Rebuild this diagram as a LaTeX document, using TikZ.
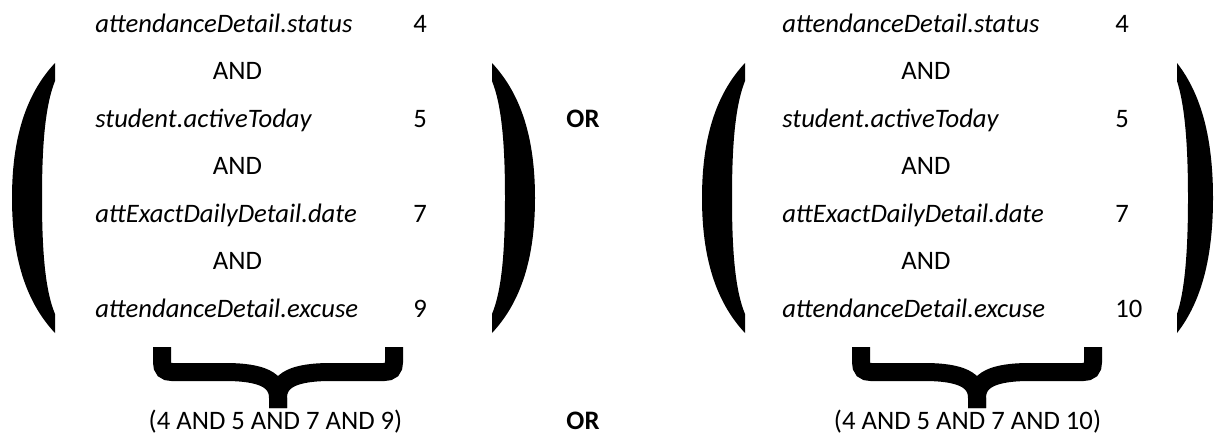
\documentclass[tikz,border=0pt]{standalone}
\usepackage{fontspec}
\setmainfont{Carlito}[Scale=2.0]

\begin{document}
\begin{tikzpicture}[
  x=0.75pt, y=-0.75pt,
  field/.style={anchor=base west,inner sep=0pt,font=\itshape},
  num/.style={anchor=base west,inner sep=0pt},
  andop/.style={anchor=base,inner sep=0pt},
  orop/.style={anchor=base,inner sep=0pt,font=\bfseries},
  total/.style={anchor=base,inner sep=0pt},
  brace/.style={line width=13.5pt}
]
  \useasboundingbox (0,0) rectangle (1214,436);

  % left group
  \node[field] (lstatus) at (95,32) {attendanceDetail.status};
  \node[num] (lnstatus) at (413,32) {4};
  \node[andop] (land1) at (237.5,79.5) {AND};
  \node[field] (lactive) at (95,127) {student.activeToday};
  \node[num] (lnactive) at (413,127) {5};
  \node[andop] (land2) at (237.5,174.5) {AND};
  \node[field] (ldate) at (95,222) {attExactDailyDetail.date};
  \node[num] (lndate) at (413,222) {7};
  \node[andop] (land3) at (237.5,269.5) {AND};
  \node[field] (lexcuse) at (95,317) {attendanceDetail.excuse};
  \node[num] (lnexcuse) at (413,317) {9};
  \node[total] (ltotal) at (275.5,429) {(4 AND 5 AND 7 AND 9)};

  % right group
  \node[field] (rstatus) at (782,32) {attendanceDetail.status};
  \node[num] (rnstatus) at (1115,32) {4};
  \node[andop] (rand1) at (926,79.5) {AND};
  \node[field] (ractive) at (782,127) {student.activeToday};
  \node[num] (rnactive) at (1115,127) {5};
  \node[andop] (rand2) at (926,174.5) {AND};
  \node[field] (rdate) at (782,222) {attExactDailyDetail.date};
  \node[num] (rndate) at (1115,222) {7};
  \node[andop] (rand3) at (926,269.5) {AND};
  \node[field] (rexcuse) at (782,317) {attendanceDetail.excuse};
  \node[num] (rnexcuse) at (1115,317) {10};
  \node[total] (rtotal) at (967.5,429) {(4 AND 5 AND 7 AND 10)};

  % the two ORs
  \node[orop] (or1) at (583,127) {OR};
  \node[orop] (or2) at (583,429) {OR};

  % parentheses
  \fill (55,63) .. controls (25,95) and (12,140) .. (12,198) .. controls (12,256) and (25,301) .. (55,333)
    -- (55,314) .. controls (45,290) and (42,250) .. (42,198) .. controls (42,146) and (45,106) .. (55,81) -- cycle;
  \fill (492,63) .. controls (522,95) and (535,140) .. (535,198) .. controls (535,256) and (522,301) .. (492,333)
    -- (492,314) .. controls (502,290) and (505,250) .. (505,198) .. controls (505,146) and (502,106) .. (492,81) -- cycle;
  \fill (745,63) .. controls (715,95) and (702,140) .. (702,198) .. controls (702,256) and (715,301) .. (745,333)
    -- (745,314) .. controls (735,290) and (732,250) .. (732,198) .. controls (732,146) and (735,106) .. (745,81) -- cycle;
  \fill (1177,63) .. controls (1202,95) and (1213,140) .. (1213,198) .. controls (1213,256) and (1202,301) .. (1177,333)
    -- (1177,314) .. controls (1185,290) and (1188,250) .. (1188,198) .. controls (1188,146) and (1185,106) .. (1177,81) -- cycle;

  % braces
  \draw[brace] (162,347) -- (162,362) .. controls (162,369) and (165,372) .. (172,372) -- (225,372)
    .. controls (262,372) and (278,380) .. (278,398) -- (278,408);
  \draw[brace] (394,347) -- (394,362) .. controls (394,369) and (391,372) .. (384,372) -- (331,372)
    .. controls (294,372) and (278,380) .. (278,398) -- (278,408);
  \draw[brace] (861,347) -- (861,362) .. controls (861,369) and (864,372) .. (871,372) -- (924,372)
    .. controls (961,372) and (977,380) .. (977,398) -- (977,408);
  \draw[brace] (1093,347) -- (1093,362) .. controls (1093,369) and (1090,372) .. (1083,372) -- (1030,372)
    .. controls (993,372) and (977,380) .. (977,398) -- (977,408);
\end{tikzpicture}
\end{document}
